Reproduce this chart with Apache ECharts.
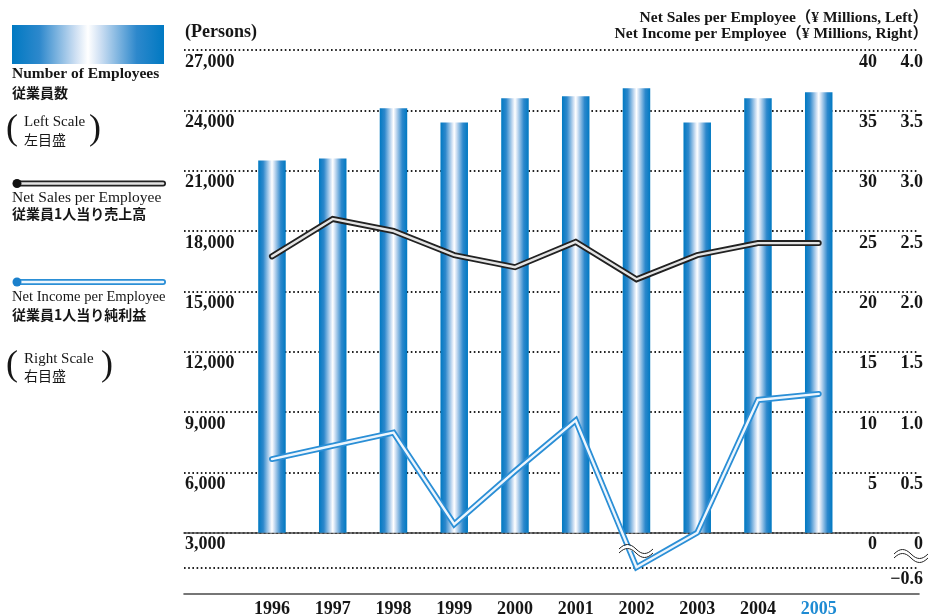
<!DOCTYPE html>
<html>
<head>
<meta charset="utf-8">
<script src="https://cdn.jsdelivr.net/npm/echarts@6/dist/echarts.min.js"></script>
<style>
  html, body { margin: 0; padding: 0; background: #fff; }
  #main { width: 929px; height: 614px; }
</style>
</head>
<body>
<div id="main"></div>
<script>
//年度
let years = ['1996', '1997', '1998', '1999', '2000', '2001', '2002', '2003', '2004', '2005']
//従業員数（人）
let employees = [21500, 21600, 24100, 23400, 24600, 24700, 25100, 23400, 24600, 24900]
//従業員1人当り売上高（百万円）
let salesPerEmp = [22.9, 26.0, 25.0, 23.0, 22.0, 24.1, 21.0, 23.0, 24.0, 24.0]
//従業員1人当り純利益（百万円）
let incomePerEmp = [0.61, 0.72, 0.83, 0.07, 0.51, 0.93, -0.6, 0.0, 1.1, 1.15]

//目盛
let personTicks = { min: 3000, max: 27000, step: 3000 }
let salesTicks = { min: 0, max: 40, step: 5 }
let incomeTicks = { min: 0, max: 4, step: 0.5 }
let incomeLow = -0.6

let serif = '"Liberation Serif", "Noto Sans CJK JP", serif'
let cjk = '"Noto Sans CJK JP", sans-serif'
let ink = '#161616'
let barBlue = '#0079C2'

//棒のグラデーション
let barGradient = {
    type: 'linear', x: 0, y: 0, x2: 1, y2: 0,
    colorStops: [
        { offset: 0, color: barBlue },
        { offset: 0.18, color: '#2D88CC' },
        { offset: 0.42, color: '#CFE0F3' },
        { offset: 0.5, color: '#FFFFFF' },
        { offset: 0.58, color: '#CFE0F3' },
        { offset: 0.82, color: '#2D88CC' },
        { offset: 1, color: barBlue }
    ]
}

let dotted = { color: '#222', width: 1.8, type: [1.6, 2.6] }
let labelFont = { fontFamily: serif, fontWeight: 'bold', fontSize: 18, color: ink }

//波線（省略記号）
function waveMark(cx, cy) {
    let wave = (dy, z) => [
        { type: 'bezierCurve', x: cx, y: cy, z: z, shape: { x1: -17, y1: dy, cpx1: -11, cpy1: dy - 6, cpx2: -6, cpy2: dy - 6, x2: 0, y2: dy }, style: { stroke: '#222', lineWidth: 1, fill: null } },
        { type: 'bezierCurve', x: cx, y: cy, z: z, shape: { x1: 0, y1: dy, cpx1: 6, cpy1: dy + 6, cpx2: 11, cpy2: dy + 6, x2: 17, y2: dy }, style: { stroke: '#222', lineWidth: 1, fill: null } }
    ]
    let band = {
        type: 'polygon', x: cx, y: cy, z: 100,
        shape: { points: [[-17, -2], [-8.5, -6.5], [0, -2], [8.5, 2.5], [17, -2], [17, 2], [8.5, 6.5], [0, 2], [-8.5, -2.5], [-17, 2]] },
        style: { fill: '#fff' }
    }
    return [band].concat(wave(-2, 101)).concat(wave(2, 101))
}

function text(x, y, str, font, extra) {
    return Object.assign({
        type: 'text', x: x, y: y, z: 50,
        style: Object.assign({ text: str, fill: ink, textVerticalAlign: 'middle', textAlign: 'left' }, font)
    }, extra || {})
}

function tubeLine(y, outer, inner, dot) {
    return [
        { type: 'line', z: 50, shape: { x1: 17, y1: y, x2: 163, y2: y }, style: { stroke: outer, lineWidth: 6, lineCap: 'round' } },
        { type: 'line', z: 51, shape: { x1: 17, y1: y, x2: 163, y2: y }, style: { stroke: inner, lineWidth: 2.4, lineCap: 'round' } },
        { type: 'circle', z: 52, shape: { cx: 17, cy: y, r: 4.5 }, style: { fill: dot } }
    ]
}

let legendBold = { font: 'bold 15.5px ' + serif }
let legendReg = { font: '15.5px ' + serif }
let legendRegSm = { font: '14.6px ' + serif }
let legendCjk = { font: 'bold 14px ' + cjk }
let scaleFont = { font: '15px ' + serif }
let scaleCjk = { font: '14px ' + cjk }
let parenFont = { font: '36px ' + serif }
let titleFont = { font: 'bold 15.5px ' + serif, textAlign: 'right' }

let graphics = [
    //凡例：従業員数
    { type: 'rect', z: 50, shape: { x: 12, y: 25, width: 152, height: 39 }, style: { fill: barGradient } },
    text(12, 74, 'Number of Employees', legendBold),
    text(12, 93, '従業員数', legendCjk),
    text(6, 130, '(', parenFont),
    text(24, 122, 'Left Scale', scaleFont),
    text(24, 140, '左目盛', scaleCjk),
    text(89, 130, ')', parenFont),
    //凡例：売上高
    text(12, 198, 'Net Sales per Employee', legendReg),
    text(12, 214, '従業員1人当り売上高', legendCjk),
    //凡例：純利益
    text(12, 297, 'Net Income per Employee', legendRegSm),
    text(12, 315, '従業員1人当り純利益', legendCjk),
    text(6, 366, '(', parenFont),
    text(24, 359, 'Right Scale', scaleFont),
    text(24, 376, '右目盛', scaleCjk),
    text(101, 366, ')', parenFont),
    //軸タイトル
    text(185, 32, '(Persons)', { font: 'bold 18px ' + serif }),
    text(928, 18, 'Net Sales per Employee（¥ Millions, Left）', titleFont),
    text(928, 34, 'Net Income per Employee（¥ Millions, Right）', titleFont)
]
    .concat(tubeLine(183.5, '#222', '#e4e4e4', '#111'))
    .concat(tubeLine(282, '#2B8FD6', '#EEF6FD', '#1A80CC'))
    .concat(waveMark(636, 551))
    .concat(waveMark(911, 556))

let plotLeft = 241.6
let plotRight = 79.9
let frameLeft = 184
let frameRight = 10

let option = {
    animation: false,
    backgroundColor: '#fff',
    grid: [
        { left: plotLeft, right: plotRight, top: 50, bottom: 81.3, outerBoundsMode: 'none' },   //棒・売上高
        { left: plotLeft, right: plotRight, top: 50, bottom: 46.7, outerBoundsMode: 'none' },   //純利益
        { left: frameLeft, right: frameRight, top: 50, bottom: 81.3, outerBoundsMode: 'none' }, //目盛線
        { left: frameLeft, right: frameRight, top: 50, bottom: 20, outerBoundsMode: 'none' },   //下の軸線
        { left: frameLeft, right: frameRight, top: 532.7, bottom: 46.7, outerBoundsMode: 'none' } //マイナス部分
    ],
    xAxis: [
        { gridIndex: 0, type: 'category', data: years, show: false },
        {
            gridIndex: 1, type: 'category', data: years,
            axisLine: { show: false }, axisTick: { show: false },
            axisLabel: Object.assign({}, labelFont, {
                margin: 33,
                color: (v) => v === '2005' ? '#1E8BD3' : ink
            })
        },
        {
            gridIndex: 2, type: 'value', min: 0, max: 1,
            axisLine: { show: true, onZero: false, lineStyle: { color: '#4a4a4a', width: 1.6 } },
            axisTick: { show: false }, axisLabel: { show: false }, splitLine: { show: false }
        },
        {
            gridIndex: 3, type: 'value', min: 0, max: 1,
            axisLine: { show: true, onZero: false, lineStyle: { color: '#4a4a4a', width: 1.6 } },
            axisTick: { show: false }, axisLabel: { show: false }, splitLine: { show: false }
        },
        { gridIndex: 4, type: 'value', min: 0, max: 1, show: false }
    ],
    yAxis: [
        //データ用
        { gridIndex: 0, type: 'value', min: personTicks.min, max: personTicks.max, show: false, splitLine: { show: false } },
        { gridIndex: 0, type: 'value', min: salesTicks.min, max: salesTicks.max, show: false, splitLine: { show: false } },
        {
            gridIndex: 1, type: 'value', min: incomeLow, max: incomeTicks.max, show: false,
            splitLine: { show: false },
            breaks: [{ start: -0.55, end: 0, gap: 0.237 }],
            breakArea: { show: false }
        },
        //目盛表示用
        {
            gridIndex: 2, type: 'value', position: 'left',
            min: personTicks.min, max: personTicks.max, interval: personTicks.step,
            axisLine: { show: false }, axisTick: { show: false },
            splitLine: { show: true, lineStyle: dotted },
            axisLabel: Object.assign({}, labelFont, {
                inside: true, margin: 1, align: 'left', verticalAlign: 'top', padding: [3, 0, 0, 0],
                formatter: (v) => v.toLocaleString('en-US')
            })
        },
        {
            gridIndex: 2, type: 'value', position: 'right',
            min: salesTicks.min, max: salesTicks.max, interval: salesTicks.step,
            axisLine: { show: false }, axisTick: { show: false }, splitLine: { show: false },
            axisLabel: Object.assign({}, labelFont, {
                inside: true, margin: 42, align: 'right', verticalAlign: 'top', padding: [3, 0, 0, 0]
            })
        },
        {
            gridIndex: 2, type: 'value', position: 'right', offset: 0,
            min: incomeTicks.min, max: incomeTicks.max, interval: incomeTicks.step,
            axisLine: { show: false }, axisTick: { show: false }, splitLine: { show: false },
            axisLabel: Object.assign({}, labelFont, {
                inside: true, margin: -4, align: 'right', verticalAlign: 'top', padding: [3, 0, 0, 0],
                showMinLabel: false,
                formatter: (v) => v.toFixed(1)
            })
        },
        { gridIndex: 3, type: 'value', show: false, splitLine: { show: false } },
        {
            gridIndex: 4, type: 'value', position: 'right',
            min: incomeLow, max: 0, interval: -incomeLow,
            axisLine: { show: false }, axisTick: { show: false },
            splitLine: { show: true, lineStyle: dotted },
            axisLabel: Object.assign({}, labelFont, {
                inside: true, margin: -4, align: 'right', verticalAlign: 'top', padding: [3, 0, 0, 0],
                formatter: (v) => v < 0 ? '−' + Math.abs(v).toFixed(1) : '0'
            })
        }
    ],
    series: [
        {
            name: 'Number of Employees', type: 'bar', xAxisIndex: 0, yAxisIndex: 0,
            data: employees, barWidth: 27.5, clip: true, z: 3,
            itemStyle: { color: barGradient }
        },
        {
            name: 'Net Sales per Employee', type: 'line', xAxisIndex: 0, yAxisIndex: 1,
            data: salesPerEmp, symbol: 'none', z: 5,
            lineStyle: { color: '#222', width: 6, cap: 'round', join: 'miter' }
        },
        {
            name: 'Net Sales inner', type: 'line', xAxisIndex: 0, yAxisIndex: 1,
            data: salesPerEmp, symbol: 'none', z: 6,
            lineStyle: { color: '#e4e4e4', width: 2.4, cap: 'round', join: 'miter' }
        },
        {
            name: 'Net Income per Employee', type: 'line', xAxisIndex: 1, yAxisIndex: 2,
            data: incomePerEmp, symbol: 'none', z: 5, clip: false,
            lineStyle: { color: '#2B8FD6', width: 6, cap: 'round', join: 'miter' }
        },
        {
            name: 'Net Income inner', type: 'line', xAxisIndex: 1, yAxisIndex: 2,
            data: incomePerEmp, symbol: 'none', z: 6, clip: false,
            lineStyle: { color: '#EEF6FD', width: 2.4, cap: 'round', join: 'miter' }
        }
    ],
    graphic: graphics
}

let myChart = echarts.init(document.getElementById('main'))
myChart.setOption(option)
</script>
</body>
</html>
